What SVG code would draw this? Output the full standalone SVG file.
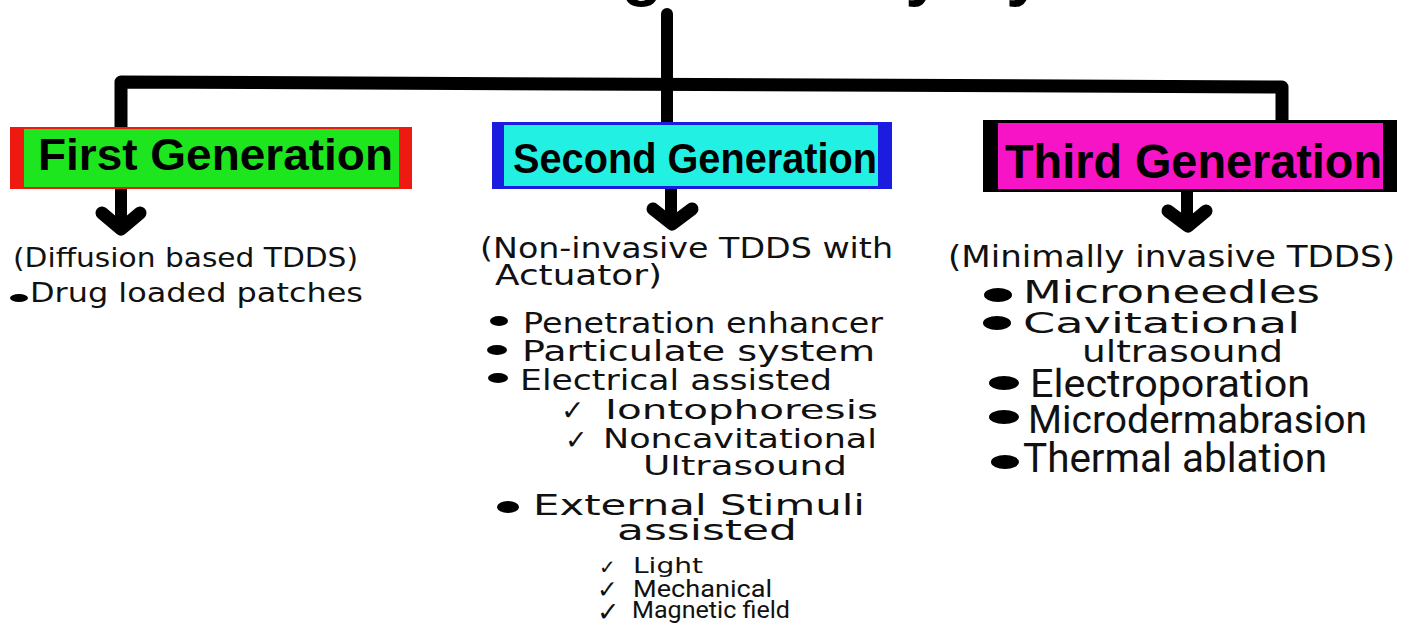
<svg xmlns="http://www.w3.org/2000/svg" width="1403" height="626" viewBox="0 0 1403 626">
<style>
.t{font-family:"DejaVu Sans",Verdana,sans-serif;fill:#111}
.r{font-family:Roboto,"Liberation Sans",sans-serif;fill:#111}
.h{font-family:"Liberation Sans",Arial,sans-serif;font-weight:bold;fill:#000}
.ck{font-family:"DejaVu Sans",sans-serif;fill:#111}
.con{fill:none;stroke:#000;stroke-linecap:round;stroke-linejoin:round}
</style>
<rect width="1403" height="626" fill="#fff"/>
<text class="h" x="88" y="-7" font-size="67" textLength="1112">Transdermal Drug Delivery System</text>
<g id="connectors">
  <path class="con" stroke-width="12" d="M667,14 L667,122"/>
  <path class="con" stroke-width="13" d="M121,127 L121,82 L1282,87 L1282,120"/>
  <path class="con" stroke-width="12" d="M121,189 L121,226"/>
  <path class="con" stroke-width="13" d="M102,213 L121,229 L140,213"/>
  <path class="con" stroke-width="12" d="M671,189 L671,220"/>
  <path class="con" stroke-width="13" d="M653,209 L672,224 L692,209"/>
  <path class="con" stroke-width="12" d="M1187,192 L1187,222"/>
  <path class="con" stroke-width="13" d="M1168,211 L1188,226 L1206,211"/>
</g>
<g id="first">
  <rect x="10" y="127" width="402" height="62" fill="#ee1a12"/>
  <rect x="24" y="129" width="375" height="58" fill="#1ee61e"/>
  <text class="h" x="38" y="170" font-size="44" textLength="355" lengthAdjust="spacingAndGlyphs">First Generation</text>
  <text class="t" x="13" y="267" font-size="27" textLength="345" lengthAdjust="spacingAndGlyphs">(Diffusion based TDDS)</text>
  <ellipse cx="19" cy="298" rx="9" ry="4" fill="#000"/>
  <text class="t" x="30" y="302" font-size="27" textLength="333" lengthAdjust="spacingAndGlyphs">Drug loaded patches</text>
</g>
<g id="second">
  <rect x="492" y="122" width="400" height="67" fill="#1c1ce0"/>
  <rect x="504" y="125" width="374" height="61" fill="#22f0e2"/>
  <text class="h" x="513" y="173" font-size="43" textLength="364" lengthAdjust="spacingAndGlyphs">Second Generation</text>
  <text class="t" x="480" y="258" font-size="28" textLength="413" lengthAdjust="spacingAndGlyphs">(Non-invasive TDDS with</text>
  <text class="t" x="495" y="285" font-size="28" textLength="167" lengthAdjust="spacingAndGlyphs">Actuator)</text>
  <ellipse cx="499" cy="321" rx="9" ry="5" fill="#000"/>
  <text class="t" x="523" y="333" font-size="28" textLength="360" lengthAdjust="spacingAndGlyphs">Penetration enhancer</text>
  <ellipse cx="497" cy="350" rx="10" ry="5" fill="#000"/>
  <text class="t" x="522" y="361" font-size="28" textLength="353" lengthAdjust="spacingAndGlyphs">Particulate system</text>
  <ellipse cx="498" cy="378" rx="10" ry="5" fill="#000"/>
  <text class="t" x="520" y="390" font-size="28" textLength="312" lengthAdjust="spacingAndGlyphs">Electrical assisted</text>
  <text class="ck" x="561" y="420" font-size="28">✓</text>
  <text class="t" x="605" y="419" font-size="27" textLength="273" lengthAdjust="spacingAndGlyphs">Iontophoresis</text>
  <text class="ck" x="565" y="449" font-size="27">✓</text>
  <text class="t" x="603" y="448" font-size="27" textLength="274" lengthAdjust="spacingAndGlyphs">Noncavitational</text>
  <text class="t" x="643" y="475" font-size="27" textLength="204" lengthAdjust="spacingAndGlyphs">Ultrasound</text>
  <ellipse cx="508" cy="507" rx="11" ry="6" fill="#000"/>
  <text class="t" x="533" y="515" font-size="29" textLength="332" lengthAdjust="spacingAndGlyphs">External Stimuli</text>
  <text class="t" x="617" y="540" font-size="29" textLength="180" lengthAdjust="spacingAndGlyphs">assisted</text>
  <text class="ck" x="599" y="574" font-size="20">✓</text>
  <text class="t" x="633" y="573" font-size="21" textLength="70" lengthAdjust="spacingAndGlyphs">Light</text>
  <text class="ck" x="597" y="598" font-size="25">✓</text>
  <text class="r" x="633" y="597" font-size="24" textLength="139" lengthAdjust="spacingAndGlyphs">Mechanical</text>
  <text class="ck" x="597" y="621" font-size="27">✓</text>
  <text class="r" x="632" y="618" font-size="23" textLength="158" lengthAdjust="spacingAndGlyphs">Magnetic field</text>
</g>
<g id="third">
  <rect x="983" y="120" width="414" height="72" fill="#000"/>
  <rect x="998" y="123" width="385" height="66" fill="#f614c6"/>
  <text class="h" x="1005" y="178" font-size="48" textLength="377" lengthAdjust="spacingAndGlyphs">Third Generation</text>
  <text class="t" x="948" y="267" font-size="30" textLength="447" lengthAdjust="spacingAndGlyphs">(Minimally invasive TDDS)</text>
  <ellipse cx="998" cy="295" rx="14" ry="7" fill="#000"/>
  <text class="t" x="1023" y="303" font-size="32" textLength="297" lengthAdjust="spacingAndGlyphs">Microneedles</text>
  <ellipse cx="997" cy="323" rx="14" ry="7" fill="#000"/>
  <text class="t" x="1023" y="333" font-size="28" textLength="277" lengthAdjust="spacingAndGlyphs">Cavitational</text>
  <text class="t" x="1082" y="362" font-size="30" textLength="201" lengthAdjust="spacingAndGlyphs">ultrasound</text>
  <ellipse cx="1004" cy="383" rx="15" ry="7" fill="#000"/>
  <text class="r" x="1030" y="397" font-size="38" textLength="280" lengthAdjust="spacingAndGlyphs">Electroporation</text>
  <ellipse cx="1004" cy="417" rx="15" ry="7" fill="#000"/>
  <text class="r" x="1028" y="433" font-size="39" textLength="339" lengthAdjust="spacingAndGlyphs">Microdermabrasion</text>
  <ellipse cx="1005" cy="462" rx="14" ry="7" fill="#000"/>
  <text class="r" x="1023" y="472" font-size="40" textLength="304" lengthAdjust="spacingAndGlyphs">Thermal ablation</text>
</g>
</svg>
